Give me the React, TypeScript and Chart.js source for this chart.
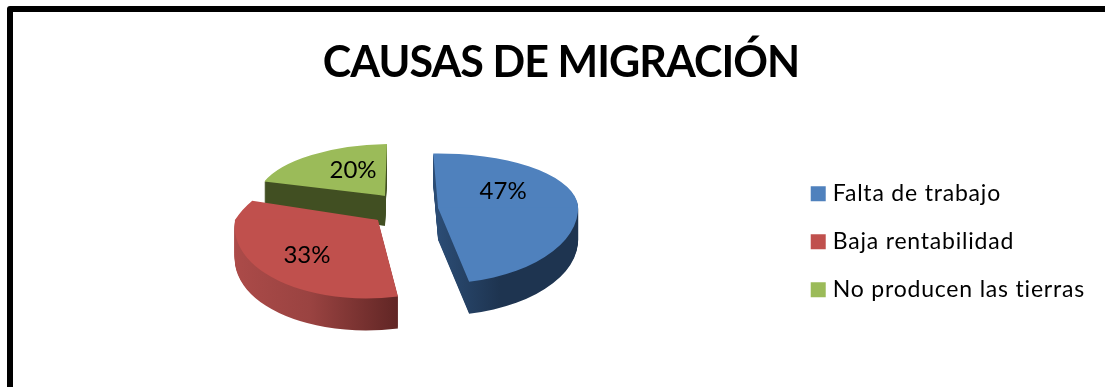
import React, { useEffect, useRef } from "react";
import { Chart, registerables } from "chart.js";

Chart.register(...registerables);

const titleText = "CAUSAS DE MIGRACIÓN";
const categories = ["Falta de trabajo", "Baja rentabilidad", "No producen las tierras"];
const shares = [47, 33, 20];
const faceColors = ["#4F81BD", "#C0504D", "#9BBB59"];

// 3D look of the pie: perspective view of the library's arcs
const pieRotation = -2;
const pieRadius = 140;
const pieCentre = { x: 401.7, y: 207.6 };
const squash = 0.55;
const explode = [36.7, 32.7, 27.1];
const apexLift = [3, 0, 0];
const depth = [32, 32, 30];
const radiusX = [1, 1.02, 0.91];
const upperSquash = [0.39, 0.5, 0.37];
const lowerSquash = [0.54, 0.56, 0.54];
const upperShear = [0, -0.3, -0.046];
const lowerShear = [0, -0.085, 0];
const rimStops = [
  [[0.5, "#2B4C74"], [0.72, "#1E3450"], [1, "#1E3450"]],
  [[0, "#AC4B49"], [0.3, "#9A4341"], [0.62, "#5F2524"], [1, "#5F2524"]],
  [[0, "#414F22"], [1, "#414F22"]],
];
const labelShift = [[65, -17], [-71, 35], [-32, -26]];
const drawOrder = [2, 1, 0];
const titleSpacing = "-0.95px";
const legendSpacing = "0.8px";

function drawArc(ctx: any, arc: any, i: number, ax: number, ay: number, dy: number, fill: any) {
  const saved = arc.options;
  arc.options = {
    offset: 0, spacing: 0, circular: true, backgroundColor: fill,
    borderWidth: 0, borderColor: "transparent", borderJoinStyle: "round", borderRadius: 0,
  };
  for (const upper of [true, false]) {
    const k = upper ? upperSquash[i] : lowerSquash[i];
    const sh = upper ? upperShear[i] : lowerShear[i];
    const sx = radiusX[i];
    ctx.save();
    ctx.beginPath();
    if (upper) ctx.rect(0, 0, 1105, ay + dy + 0.5);
    else ctx.rect(0, ay + dy - 0.5, 1105, 387);
    ctx.clip();
    ctx.transform(sx, 0, sh, k, ax - sx * arc.x - sh * arc.y, ay + dy - k * arc.y);
    arc.draw(ctx);
    ctx.restore();
  }
  arc.options = saved;
}

function withSpacing(ctx: any, box: any, name: string, spacing: string) {
  const original = box[name];
  box[name] = function (...args: any[]) {
    ctx.letterSpacing = spacing;
    const result = original.apply(box, args);
    ctx.letterSpacing = "0px";
    return result;
  };
}

const pie3d = {
  id: "pie3d",
  beforeLayout(chart: any) {
    if (chart.$spaced) return;
    chart.$spaced = true;
    withSpacing(chart.ctx, chart.titleBlock, "draw", titleSpacing);
    withSpacing(chart.ctx, chart.legend, "draw", legendSpacing);
    withSpacing(chart.ctx, chart.legend, "fit", legendSpacing);
  },
  beforeDatasetsDraw(chart: any) {
    const ctx = chart.ctx;
    const arcs = chart.getDatasetMeta(0).data;
    for (const i of drawOrder) {
      const arc = arcs[i];
      const mid = (arc.startAngle + arc.endAngle) / 2;
      const ax = pieCentre.x + Math.cos(mid) * explode[i];
      const ay = pieCentre.y + Math.sin(mid) * explode[i] * squash + apexLift[i];
      const grad = ctx.createLinearGradient(arc.x - pieRadius, 0, arc.x + pieRadius, 0);
      for (const [p, c] of rimStops[i] as any) grad.addColorStop(p, c);
      for (let d = depth[i]; d >= 1; d--) drawArc(ctx, arc, i, ax, ay, d, grad);
      drawArc(ctx, arc, i, ax, ay, 0, faceColors[i]);
      ctx.save();
      ctx.fillStyle = "#000";
      ctx.font = "24px Lato";
      ctx.textAlign = "center";
      ctx.textBaseline = "middle";
      ctx.fillText(shares[i] + "%", ax + labelShift[i][0], ay + labelShift[i][1]);
      ctx.restore();
    }
    return false;
  },
};

export default function App() {
  const ref = useRef<HTMLCanvasElement>(null);
  useEffect(() => {
    const chart = new Chart(ref.current as any, {
      type: "pie",
      data: {
        labels: categories,
        datasets: [{ data: shares, backgroundColor: faceColors, borderWidth: 0 }],
      },
      options: {
        responsive: false,
        animation: false,
        rotation: pieRotation,
        radius: pieRadius,
        layout: { padding: { left: 27, right: 10, top: 37, bottom: 0 } },
        plugins: {
          title: {
            display: true,
            text: titleText,
            color: "#000",
            font: { family: "Lato", size: 43, weight: "bold" },
            padding: { top: 0, bottom: 8 },
          },
          legend: {
            position: "right",
            fullSize: false,
            labels: {
              color: "#000",
              font: { family: "Lato", size: 23 },
              boxWidth: 6,
              boxHeight: 6,
              padding: 25,
              generateLabels: (chart: any) =>
                categories.map((text, index) => ({
                  text,
                  index,
                  fillStyle: faceColors[index],
                  strokeStyle: faceColors[index],
                  lineWidth: 9,
                  lineJoin: "miter",
                  fontColor: "#000",
                  hidden: false,
                })),
            },
          },
          tooltip: { enabled: false },
        },
      },
      plugins: [pie3d],
    } as any);
    return () => chart.destroy();
  }, []);
  return (
    <div style={{ position: "fixed", left: 0, top: 0, width: 1105, height: 387, overflow: "hidden", background: "#fff" }}>
      <div style={{ position: "absolute", left: 7, top: 6, width: 1300, height: 600, border: "6.5px solid #000", borderRadius: 3 }} />
      <canvas ref={ref} width={1105} height={387} style={{ position: "absolute", left: 0, top: 0 }} />
    </div>
  );
}
